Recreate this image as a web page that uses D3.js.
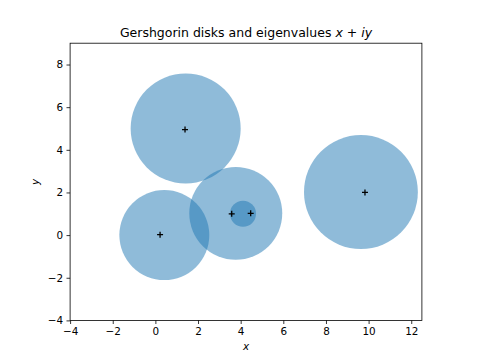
<!DOCTYPE html>
<html>
<head>
<meta charset="utf-8">
<script src="https://cdn.jsdelivr.net/npm/d3@7"></script>
<style>
body { margin: 0; background: #fff; }
text { font-family: "DejaVu Sans", sans-serif; fill: #000; }
</style>
</head>
<body>
<script>
// Gershgorin disks: centre (re, im) and radius
const diskRe = [1.42, 0.42, 3.77, 9.64, 4.11];
const diskIm = [5.0, 0.0, 1.02, 2.02, 1.0];
const diskR  = [2.58, 2.11, 2.18, 2.67, 0.61];
// Eigenvalues
const eigRe = [1.39, 0.22, 3.58, 4.47, 9.83];
const eigIm = [4.95, 0.02, 1.0, 1.02, 2.0];
const xTicks = [-4, -2, 0, 2, 4, 6, 8, 10, 12];
const yTicks = [-4, -2, 0, 2, 4, 6, 8];
const xDomain = [-4, 12.5];
const yDomain = [-4, 9];

const W = 480, H = 360;
const m = { left: 70.1, right: 421.9, top: 43.2, bottom: 320.4 };

const svg = d3.select("body").append("svg").attr("width", W).attr("height", H);

const x = d3.scaleLinear().domain(xDomain).range([m.left, m.right]);
const y = d3.scaleLinear().domain(yDomain).range([m.bottom, m.top]);
const k = x(1) - x(0);

svg.append("defs").append("clipPath").attr("id", "clip")
  .append("rect").attr("x", m.left).attr("y", m.top)
  .attr("width", m.right - m.left).attr("height", m.bottom - m.top);

const g = svg.append("g").attr("clip-path", "url(#clip)");
g.selectAll("circle.disk").data(diskRe.map((d, i) => ({ re: d, im: diskIm[i], r: diskR[i] })))
  .enter().append("circle").attr("class", "disk")
  .attr("cx", d => x(d.re)).attr("cy", d => y(d.im)).attr("r", d => d.r * k)
  .attr("fill", "#1f77b4").attr("fill-opacity", 0.5);

const s = 3;
const eig = eigRe.map((d, i) => ({ re: d, im: eigIm[i] }));
const mk = g.selectAll("g.eig").data(eig).enter().append("g")
  .attr("transform", d => `translate(${x(d.re)},${y(d.im)})`);
mk.append("path").attr("d", `M${-s},0H${s}M0,${-s}V${s}`)
  .attr("stroke", "#000").attr("stroke-width", 1.3).attr("fill", "none");

const fmt = v => (v < 0 ? "\u2212" + Math.abs(v) : "" + v);

const xAxis = d3.axisBottom(x).tickValues(xTicks).tickSize(3.6).tickPadding(3.4).tickFormat(fmt);
const yAxis = d3.axisLeft(y).tickValues(yTicks).tickSize(3.6).tickPadding(3.4).tickFormat(fmt);

const gx = svg.append("g").attr("transform", `translate(0,${m.bottom})`).call(xAxis);
const gy = svg.append("g").attr("transform", `translate(${m.left},0)`).call(yAxis);
[gx, gy].forEach(a => {
  a.select(".domain").remove();
  a.selectAll("line").attr("stroke", "#000").attr("stroke-width", 0.8);
  a.selectAll("text").style("font-family", "DejaVu Sans").style("font-size", "10.4px").attr("fill", "#000");
});

svg.append("rect").attr("x", m.left).attr("y", m.top)
  .attr("width", m.right - m.left).attr("height", m.bottom - m.top)
  .attr("fill", "none").attr("stroke", "#000").attr("stroke-width", 0.8);

const title = svg.append("text").attr("x", (m.left + m.right) / 2).attr("y", 37)
  .attr("text-anchor", "middle").style("font-size", "12.5px");
title.append("tspan").text("Gershgorin disks and eigenvalues ");
title.append("tspan").style("font-style", "italic").text("x");
title.append("tspan").text(" + ");
title.append("tspan").style("font-style", "italic").text("iy");

svg.append("text").attr("x", (m.left + m.right) / 2).attr("y", 350)
  .attr("text-anchor", "middle").style("font-size", "10.4px").style("font-style", "italic").text("x");
svg.append("text").attr("transform", `translate(39,${(m.top + m.bottom) / 2}) rotate(-90)`)
  .attr("text-anchor", "middle").style("font-size", "10.4px").style("font-style", "italic").text("y");
</script>
</body>
</html>
